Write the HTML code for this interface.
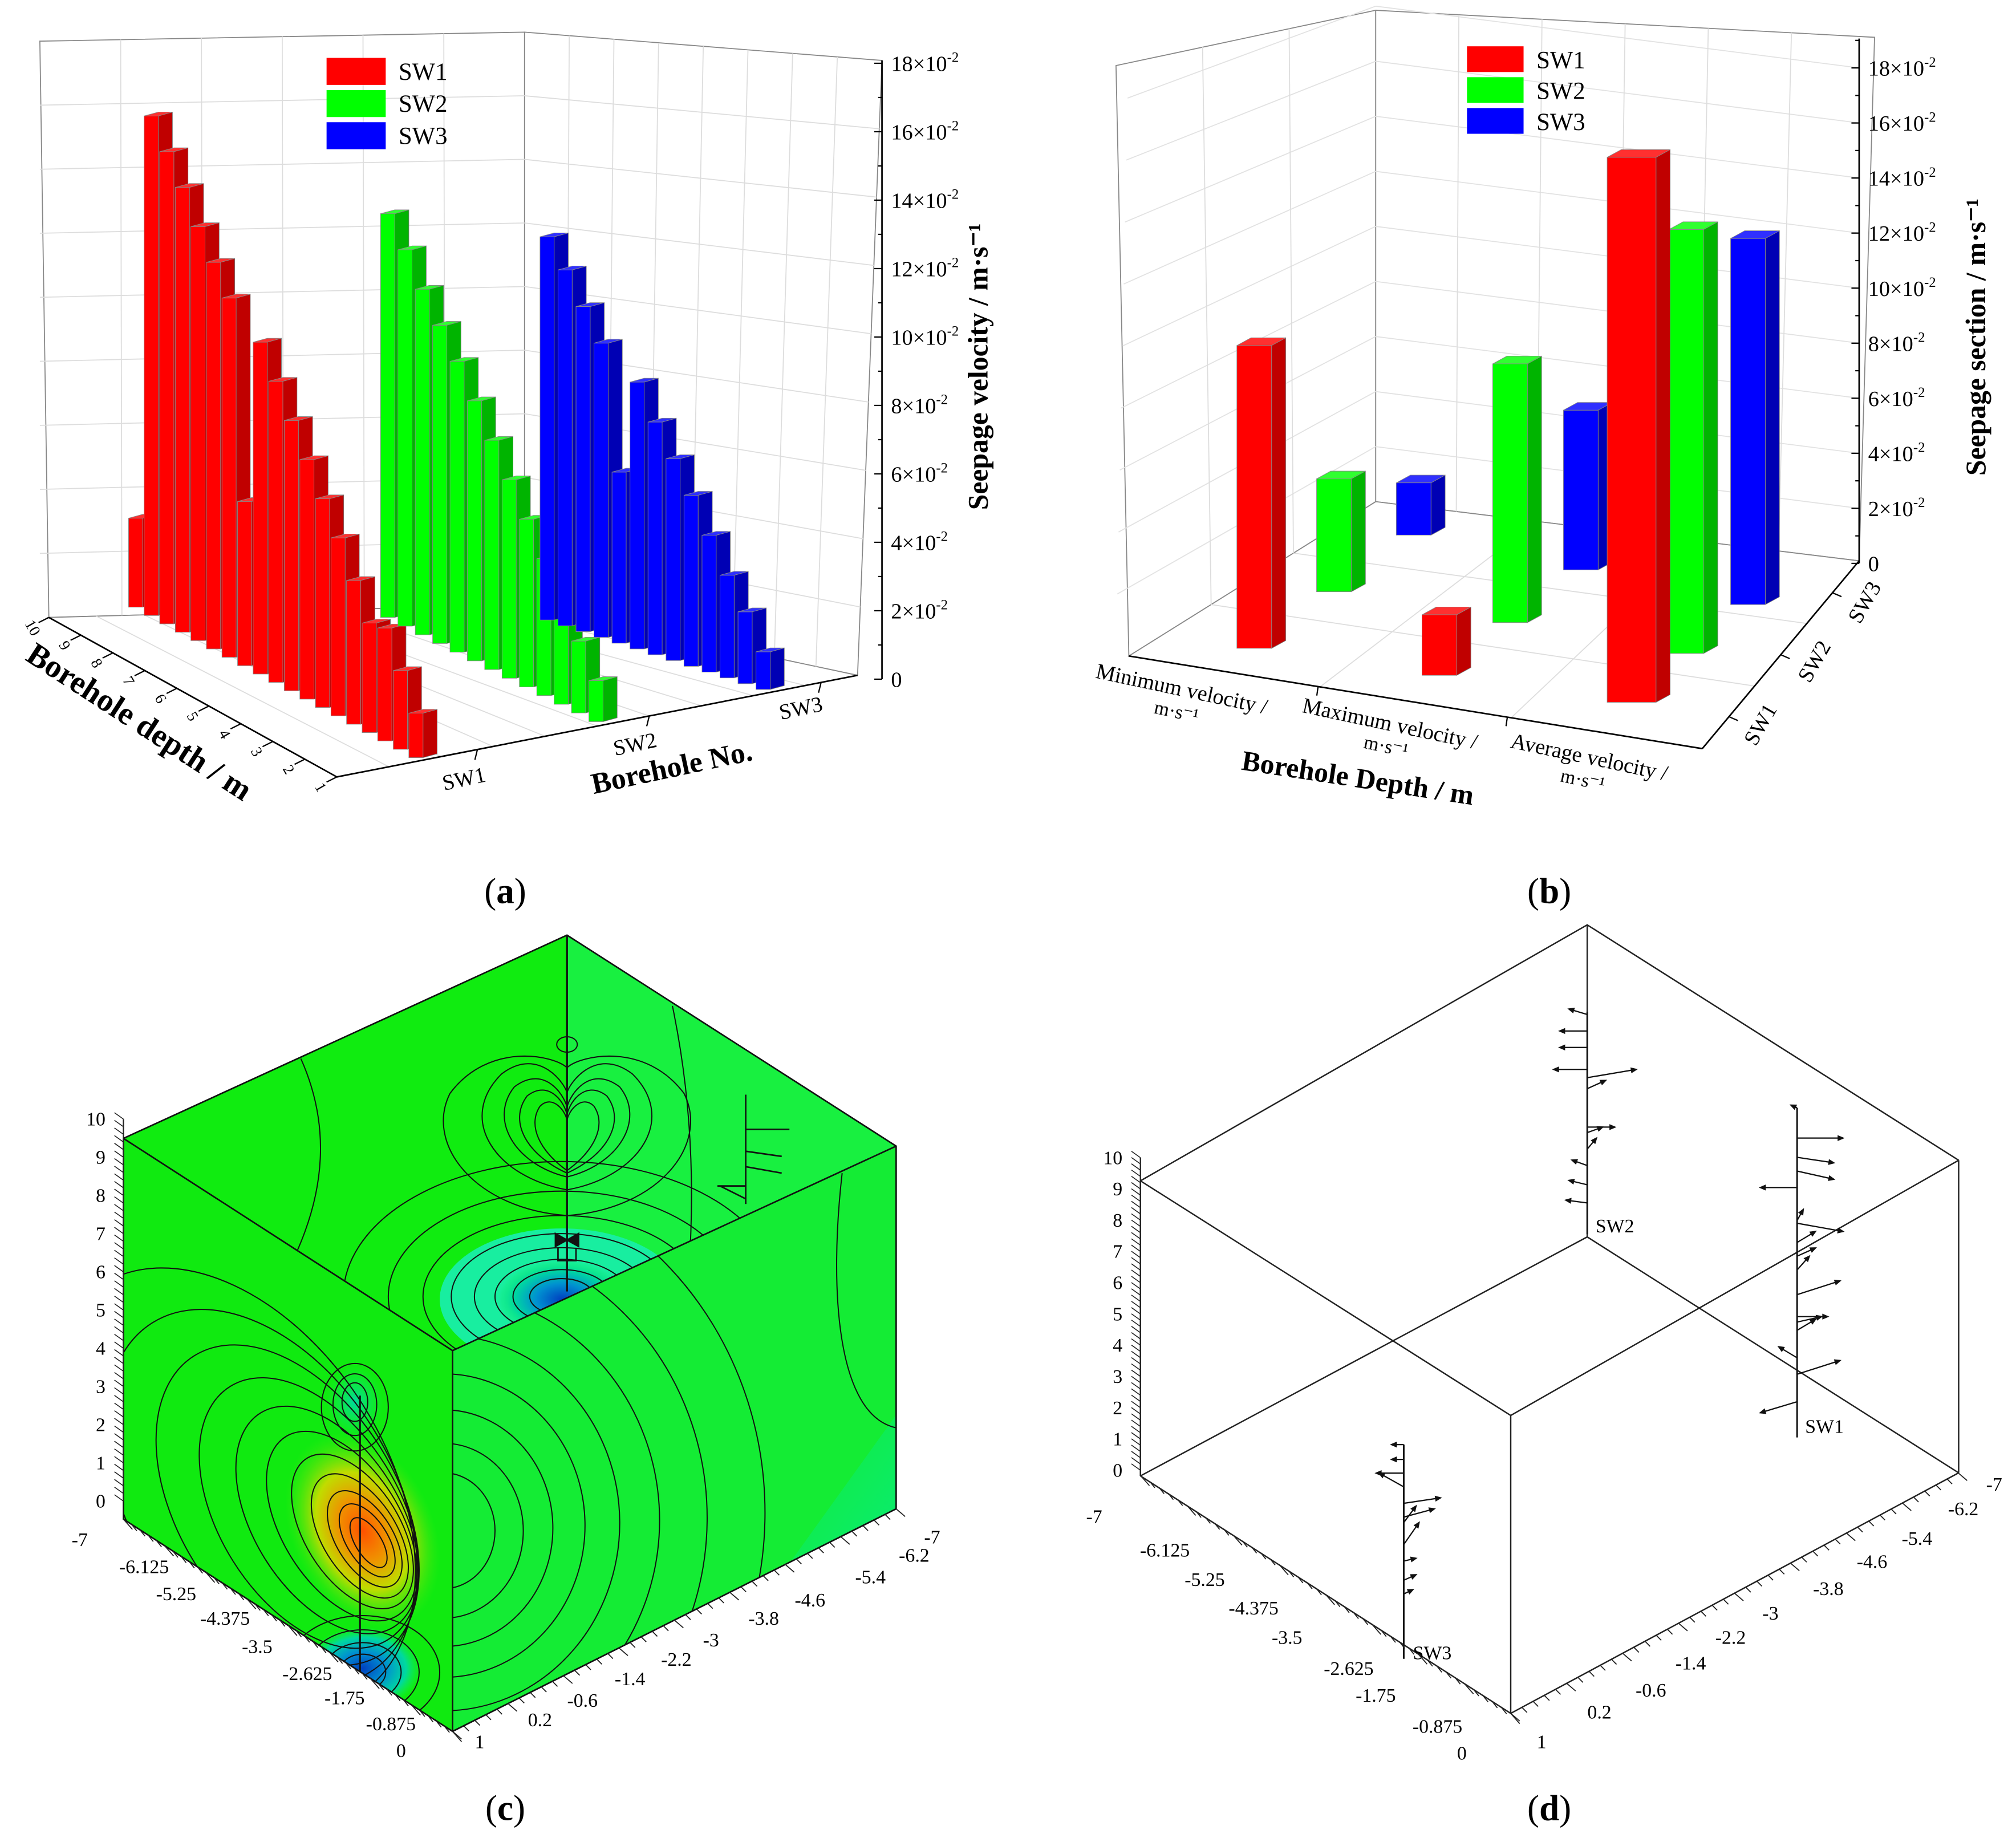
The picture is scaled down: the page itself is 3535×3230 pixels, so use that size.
<!DOCTYPE html>
<html><head><meta charset="utf-8"><style>
html,body{margin:0;padding:0;background:#fff}
svg{display:block}
text{font-family:"Liberation Serif",serif;fill:#000}
</style></head><body>
<svg id="fig" xmlns="http://www.w3.org/2000/svg" width="3535" height="3230" viewBox="0 0 1568 1432" preserveAspectRatio="none">
<defs>
<clipPath id="cFL"><polygon points="96,885 352,1050 352,1346 96,1181"/></clipPath>
<clipPath id="cFR"><polygon points="352,1050 697,891 697,1173 352,1346"/></clipPath>
<clipPath id="cBK"><polygon points="441,727 96,885 352,1050 697,891"/></clipPath>
<radialGradient id="gHot" cx="0.5" cy="0.5" r="0.5">
<stop offset="0" stop-color="#ff5000"/><stop offset="0.3" stop-color="#f09000"/><stop offset="0.6" stop-color="#c0dc00"/><stop offset="1" stop-color="#40e810" stop-opacity="0"/>
</radialGradient>
<radialGradient id="gBlue" cx="0.5" cy="0.5" r="0.5">
<stop offset="0" stop-color="#0040c0"/><stop offset="0.4" stop-color="#0090d0"/><stop offset="0.75" stop-color="#00d8a0"/><stop offset="1" stop-color="#10ee60" stop-opacity="0"/>
</radialGradient>
<radialGradient id="gCyan" cx="0.5" cy="0.5" r="0.5">
<stop offset="0" stop-color="#00d8a0"/><stop offset="1" stop-color="#10ee60" stop-opacity="0"/>
</radialGradient>
<linearGradient id="gCorner" x1="0" y1="0" x2="1" y2="1">
<stop offset="0" stop-color="#12f040" stop-opacity="0"/><stop offset="1" stop-color="#00e8a8"/>
</linearGradient>
</defs>

<!-- ============ PANEL A ============ -->
<g id="panelA">
<polygon points="31,32 408,25 408,470 38,480" fill="#fff" stroke="#888" stroke-width="0.8"/>
<polygon points="408,25 686,47 667,525 408,470" fill="#fff" stroke="#888" stroke-width="0.8"/>
<polygon points="38,480 408,470 667,525 262,604" fill="#fff" stroke="#888" stroke-width="0.8"/>
<g id="aGrid" stroke="#ddd" stroke-width="0.8" fill="none"></g>
<g id="aBars"></g>
<g id="aAxis"></g>
<g>
<rect x="254" y="45" width="46" height="21" fill="#ff0000"/>
<rect x="254" y="70" width="46" height="21" fill="#00ff00"/>
<rect x="254" y="95" width="46" height="21" fill="#0000ff"/>
<text x="310" y="62" font-size="19">SW1</text>
<text x="310" y="87" font-size="19">SW2</text>
<text x="310" y="112" font-size="19">SW3</text>
</g>
<text transform="translate(104,568) rotate(33)" text-anchor="middle" font-size="25" font-weight="bold">Borehole depth / m</text>
<text transform="translate(524,604) rotate(-12)" text-anchor="middle" font-size="23" font-weight="bold">Borehole No.</text>
<text transform="translate(768,285) rotate(-90)" text-anchor="middle" font-size="22" font-weight="bold">Seepage velocity / m·s⁻¹</text>
<text transform="translate(362,611) rotate(-12)" text-anchor="middle" font-size="17">SW1</text>
<text transform="translate(495,584) rotate(-12)" text-anchor="middle" font-size="17">SW2</text>
<text transform="translate(624,556) rotate(-12)" text-anchor="middle" font-size="17">SW3</text>
</g>
<text x="393" y="702" text-anchor="middle" font-size="28">(<tspan font-weight="bold">a</tspan>)</text>

<!-- ============ PANEL B ============ -->
<g id="panelB">
<polygon points="868,51 1070,8 1070,390 878,510" fill="#fff" stroke="#888" stroke-width="0.8"/>
<polygon points="1070,8 1458,29 1446,436 1070,390" fill="#fff" stroke="#888" stroke-width="0.8"/>
<polygon points="878,510 1070,390 1446,436 1324,582" fill="#fff" stroke="#888" stroke-width="0.8"/>
<g id="bGrid" stroke="#ddd" stroke-width="0.8" fill="none"></g>
<g id="bBars"></g>
<g id="bAxis"></g>
<g>
<rect x="1141" y="36" width="44" height="20" fill="#ff0000"/>
<rect x="1141" y="60" width="44" height="20" fill="#00ff00"/>
<rect x="1141" y="84" width="44" height="20" fill="#0000ff"/>
<text x="1195" y="53" font-size="19">SW1</text>
<text x="1195" y="77" font-size="19">SW2</text>
<text x="1195" y="101" font-size="19">SW3</text>
</g>
<text transform="translate(918,541) rotate(12)" text-anchor="middle" font-size="17">Minimum velocity /</text>
<text transform="translate(914,558) rotate(12)" text-anchor="middle" font-size="15">m·s⁻¹</text>
<text transform="translate(1080,568) rotate(12)" text-anchor="middle" font-size="17">Maximum velocity /</text>
<text transform="translate(1077,585) rotate(12)" text-anchor="middle" font-size="15">m·s⁻¹</text>
<text transform="translate(1235,594) rotate(12)" text-anchor="middle" font-size="17">Average velocity /</text>
<text transform="translate(1230,611) rotate(12)" text-anchor="middle" font-size="15">m·s⁻¹</text>
<text transform="translate(1055,612) rotate(8.7)" text-anchor="middle" font-size="22" font-weight="bold">Borehole Depth / m</text>
<text transform="translate(1544,262) rotate(-90)" text-anchor="middle" font-size="22" font-weight="bold">Seepage section / m·s⁻¹</text>
<text transform="translate(1374,566) rotate(-60)" text-anchor="middle" font-size="17">SW1</text>
<text transform="translate(1416,517) rotate(-60)" text-anchor="middle" font-size="17">SW2</text>
<text transform="translate(1455,471) rotate(-60)" text-anchor="middle" font-size="17">SW3</text>
</g>
<text x="1205" y="702" text-anchor="middle" font-size="28">(<tspan font-weight="bold">b</tspan>)</text>

<!-- ============ PANEL C ============ -->
<g id="panelC">
<polygon points="441,727 96,885 352,1050 697,891" fill="#10ec10"/>
<polygon points="441,727 697,891 530,969 441,1004" fill="#18f040"/>
<g clip-path="url(#cBK)" fill="none" stroke="#111" stroke-width="0.9">
 <ellipse cx="437" cy="1010" rx="95" ry="55" fill="#18eea0" stroke="none"/>
 <ellipse cx="437" cy="1010" rx="50" ry="30" fill="url(#gBlue)" stroke="none"/>
 <ellipse cx="437" cy="1008" rx="25" ry="14"/><ellipse cx="437" cy="1008" rx="38" ry="21"/><ellipse cx="437" cy="1008" rx="52" ry="29"/><ellipse cx="437" cy="1008" rx="68" ry="38"/><ellipse cx="437" cy="1008" rx="86" ry="49"/><ellipse cx="437" cy="1008" rx="108" ry="63"/><ellipse cx="437" cy="1008" rx="135" ry="82"/><ellipse cx="437" cy="1008" rx="170" ry="105"/>
 <g transform="translate(0,100)">
 <path d="M441,810 C420,795 410,775 420,760 C430,750 441,765 441,772 C441,765 452,750 462,760 C472,775 462,795 441,810Z"/>
 <path d="M441,812 C410,798 395,772 410,752 C428,738 441,760 441,768 C441,760 454,738 472,752 C487,772 472,798 441,812Z"/>
 <path d="M441,815 C400,805 380,770 400,745 C425,726 441,755 441,762 C441,755 457,726 482,745 C502,770 482,805 441,815Z"/>
 <path d="M441,825 C385,815 355,770 390,735 C420,712 441,745 441,750 C441,745 462,712 492,735 C527,770 497,815 441,825Z"/>
 <path d="M441,845 C370,840 330,790 350,750 C380,710 430,720 441,730 C452,720 502,710 532,750 C552,790 512,840 441,845Z"/>
 </g>
 <ellipse cx="441" cy="812" rx="8" ry="6"/>
 <path d="M234,823 C255,870 255,920 230,975"/>
 <path d="M523,782 C535,840 540,900 537,966"/>
</g>
<polygon points="96,885 352,1050 352,1346 96,1181" fill="#10ea10"/>
<g clip-path="url(#cFL)" fill="none" stroke="#111" stroke-width="0.9">
 <ellipse cx="282" cy="1297" rx="45" ry="32" fill="url(#gBlue)" stroke="none"/>
 <ellipse cx="276" cy="1090" rx="22" ry="28" fill="url(#gCyan)" stroke="none"/>
 <ellipse cx="282" cy="1190" rx="55" ry="80" fill="url(#gHot)" stroke="none" transform="rotate(-25 282 1190)"/>
 <g transform="rotate(-32 284 1195)">
 <ellipse cx="284" cy="1200" rx="10" ry="22"/><ellipse cx="284" cy="1198" rx="16" ry="32"/><ellipse cx="283" cy="1196" rx="22" ry="42"/><ellipse cx="281" cy="1192" rx="29" ry="54"/><ellipse cx="278" cy="1186" rx="37" ry="67"/><ellipse cx="273" cy="1178" rx="46" ry="82"/><ellipse cx="266" cy="1168" rx="57" ry="98"/><ellipse cx="257" cy="1156" rx="70" ry="116"/><ellipse cx="246" cy="1142" rx="85" ry="137"/><ellipse cx="232" cy="1126" rx="102" ry="160"/><ellipse cx="215" cy="1108" rx="122" ry="188"/>
 </g>
 <ellipse cx="276" cy="1090" rx="10" ry="15"/><ellipse cx="276" cy="1092" rx="17" ry="24"/><ellipse cx="276" cy="1094" rx="26" ry="34"/>
 <ellipse cx="282" cy="1300" rx="18" ry="14"/><ellipse cx="282" cy="1300" rx="30" ry="23"/><ellipse cx="282" cy="1300" rx="44" ry="33"/><ellipse cx="282" cy="1300" rx="60" ry="44"/>
 <line x1="280" y1="1085" x2="280" y2="1346" stroke-width="1.4"/>
</g>
<polygon points="352,1050 697,891 697,1173 352,1346" fill="#14ec34"/>
<g clip-path="url(#cFR)" fill="none" stroke="#111" stroke-width="0.9">
 <polygon points="520,1346 697,1100 697,1346" fill="url(#gCorner)" stroke="none"/>
 <ellipse cx="345" cy="1190" rx="40" ry="45"/><ellipse cx="345" cy="1190" rx="62" ry="68"/><ellipse cx="345" cy="1188" rx="85" ry="92"/><ellipse cx="345" cy="1186" rx="110" ry="118"/><ellipse cx="345" cy="1184" rx="137" ry="146"/><ellipse cx="345" cy="1182" rx="168" ry="178"/><ellipse cx="345" cy="1180" rx="205" ry="218"/><ellipse cx="345" cy="1176" rx="250" ry="268"/>
 <path d="M560,1346 C620,1250 660,1210 697,1190"/><path d="M600,1346 C640,1280 670,1250 697,1240"/>
 <path d="M655,912 C645,1000 650,1100 697,1110"/>
</g>
<g fill="none" stroke="#111" stroke-width="1.2">
 <polyline points="96,885 441,727 697,891 697,1173 352,1346 96,1181 96,885"/>
 <polyline points="96,885 352,1050 697,891"/>
 <line x1="352" y1="1050" x2="352" y2="1346"/>
 <line x1="441" y1="727" x2="441" y2="1004" stroke-width="1.5"/>
 <line x1="580" y1="851" x2="580" y2="936"/>
 <line x1="580" y1="878" x2="614" y2="878"/><line x1="580" y1="895" x2="608" y2="899"/><line x1="580" y1="907" x2="608" y2="912"/><line x1="580" y1="922" x2="558" y2="922"/><line x1="580" y1="932" x2="560" y2="922"/>
 <path d="M432,959 L441,964 L450,959 L450,969 L441,964 L432,969Z" fill="#111"/>
 <path d="M434,970 L434,980 L448,980 L448,970"/>
</g>
<g id="cAxis"></g>
</g>
<text x="393" y="1415" text-anchor="middle" font-size="28">(<tspan font-weight="bold">c</tspan>)</text>

<!-- ============ PANEL D ============ -->
<g id="panelD">
<g fill="none" stroke="#222" stroke-width="1.1">
 <polyline points="887,918 1234.5,719 1523.4,902"/>
 <line x1="1234.5" y1="719" x2="1234.5" y2="961.6"/>
 <line x1="887" y1="918" x2="887" y2="1147.4"/>
 <line x1="1523.4" y1="902" x2="1523.4" y2="1145"/>
 <polyline points="887,918 1175,1100.4 1523.4,902"/>
 <line x1="1175" y1="1100.4" x2="1175" y2="1332"/>
 <polyline points="887,1147.4 1175,1332 1523.4,1145"/>
 <line x1="1234.5" y1="961.6" x2="887" y2="1147.4"/>
 <line x1="1234.5" y1="961.6" x2="1523.4" y2="1145"/>
</g>
<g id="dWells" fill="none" stroke="#111" stroke-width="1"></g>
<text x="1404" y="1114" font-size="15">SW1</text>
<text x="1241" y="958" font-size="15">SW2</text>
<text x="1099" y="1290" font-size="15">SW3</text>
<g id="dAxis"></g>
</g>
<text x="1205" y="1415" text-anchor="middle" font-size="28">(<tspan font-weight="bold">d</tspan>)</text>
</svg>

<script>
const NS='http://www.w3.org/2000/svg';
// ---------- Panel (a) data (×10^-2 m/s) ----------
const aSeries=['SW1','SW2','SW3'];
const aSW1=[2.6,14.6,13.8,13.0,12.1,11.3,10.5,4.8,9.7,8.8,7.9,7.0,6.1,5.2,4.2,3.2,3.3,2.3,1.3];
const aSW2=[11.8,11.0,10.1,9.3,8.5,7.6,6.7,5.8,4.9,4.0,3.1,2.1,1.2];
const aSW3=[11.2,10.4,9.5,8.6,5.0,7.8,6.8,5.9,5.0,4.0,3.0,2.1,1.1];
const aTicks=[0,2,4,6,8,10,12,14,16,18];
const aDepthLabels=['10','9','8','7','6','5','4','3','2','1'];
// ---------- Panel (b) data (×10^-2 m/s) ----------
const bCategories=['Minimum velocity','Maximum velocity','Average velocity'];
const bSW1=[11.0,2.2,19.8];
const bSW2=[4.1,9.4,15.4];
const bSW3=[1.9,5.8,13.3];
const bTicks=[0,2,4,6,8,10,12,14,16,18];
// ---------- Panel (c)/(d) axis labels ----------
const cLeftLabels=['-7','-6.125','-5.25','-4.375','-3.5','-2.625','-1.75','-0.875','0'];
const cRightLabels=['-7','-6.2','-5.4','-4.6','-3.8','-3','-2.2','-1.4','-0.6','0.2','1'];
const zLabels=['0','1','2','3','4','5','6','7','8','9','10'];

function el(tag,attrs,parent,txt){const e=document.createElementNS(NS,tag);for(const k in attrs)e.setAttribute(k,attrs[k]);if(txt!==undefined)e.textContent=txt;parent.appendChild(e);return e;}

const aScale=v=>v*26.6;
const aY=v=>528-v*26.6;
const bScale=v=>v*21.4;
const bY=v=>438-v*21.4;
const colors={SW1:['#ff0000','#c00000','#ff3030'],SW2:['#00ff00','#00b400','#30ff30'],SW3:['#0000ff','#0000b4','#3030ff']};

function bar(g,x,yb,h,w,d,dy,c,name){
  const grp=el('g',{},g);
  
  
  el('polygon',{points:`${x+w},${yb-h} ${x+w+d},${yb-h-dy} ${x+w+d},${yb-dy} ${x+w},${yb}`,fill:c[1],stroke:'#777','stroke-width':0.4},grp);
  el('rect',{x:x,y:yb-h,width:w,height:h,fill:c[0],stroke:'#888','stroke-width':0.4},grp);
  el('polygon',{points:`${x},${yb-h} ${x+d},${yb-h-dy} ${x+w+d},${yb-h-dy} ${x+w},${yb-h}`,fill:c[2],stroke:'#888','stroke-width':0.4},grp);
}

(function(){
 const g=document.getElementById('aGrid');
 for(let i=1;i<9;i++){const t=i/9;el('line',{x1:31,y1:32+(480-32)*t,x2:408,y2:25+(470-25)*t},g);}
 for(let i=1;i<6;i++){const x=31+i*(408-31)/6;el('line',{x1:x,y1:32-i*1.2,x2:x+1,y2:480-i*1.5},g);}
 for(let i=1;i<9;i++){const t=i/9;el('line',{x1:408,y1:25+(470-25)*t,x2:686-19*t,y2:47+(525-47)*t},g);}
 for(let i=1;i<8;i++){const t=i/8;el('line',{x1:408+278*t,y1:25+22*t,x2:408+259*t,y2:470+55*t},g);}
 for(let i=1;i<10;i++){const t=i/10;el('line',{x1:38+370*t,y1:480-10*t,x2:262+405*t,y2:604-79*t},g);}
})();
(function(){
 const g=document.getElementById('aBars');
 const specs=[[aSW1,'SW1',100,472,318,589],[aSW2,'SW2',296,480,458,561],[aSW3,'SW3',420,482,588,536]];
 specs.forEach(([arr,s,x0,y0,x1,y1])=>{
   const n=arr.length;
   arr.forEach((v,i)=>{const t=n>1?i/(n-1):0;bar(g,x0+(x1-x0)*t,y0+(y1-y0)*t,aScale(v),11,11,3,colors[s],'bar-'+s.toLowerCase()+'-'+(i+1));});
 });
 const ax=document.getElementById('aAxis');
 const l=el('line',{x1:686,y1:47,x2:686,y2:528,stroke:'#000','stroke-width':1.2},ax);
 
 for(let v=0;v<=18;v++){el('line',{x1:686,y1:aY(v),x2:v%2?683:680,y2:aY(v),stroke:'#000','stroke-width':1},ax);}
 aTicks.forEach(v=>{const t=el('text',{x:693,y:aY(v)+6,'font-size':17},ax);
   
   if(v===0){t.textContent='0';}else{t.textContent=v+'×10';el('tspan',{dy:-7,'font-size':11},t,'-2');}
 });
 el('line',{x1:38,y1:480,x2:262,y2:604,stroke:'#000','stroke-width':1.2},ax);
 el('line',{x1:262,y1:604,x2:667,y2:525,stroke:'#000','stroke-width':1.2},ax);
 aDepthLabels.forEach((s,i)=>{const t=i/9;const x=38+224*t,y=480+124*t;
   el('line',{x1:x,y1:y,x2:x-8,y2:y+4,stroke:'#000'},ax);
   const tx=el('text',{transform:`translate(${x-16},${y+10}) rotate(60)`,'font-size':12,'text-anchor':'middle'},ax,s);
   });
 [0.27,0.6,0.93].forEach(t=>{el('line',{x1:262+405*t,y1:604-79*t,x2:262+405*t-2,y2:604-79*t+8,stroke:'#000'},ax);});
})();
(function(){
 const g=document.getElementById('bGrid');
 for(let v=2;v<=18;v+=2){el('line',{x1:868+10*v/20,y1:510-(510-51)*v/20*1.05,x2:1070,y2:bY(v)-48,stroke:'#e2e2e2'},g);
   el('line',{x1:1070,y1:bY(v)-48,x2:1446,y2:bY(v),stroke:'#e2e2e2'},g);}
 for(let i=1;i<3;i++){const t=i/3;el('line',{x1:868+202*t,y1:51-43*t,x2:878+192*t,y2:510-120*t},g);}
 for(let i=1;i<6;i++){const t=i/6;el('line',{x1:1070+388*t,y1:8+21*t,x2:1070+376*t,y2:390+46*t},g);}
 for(let i=1;i<3;i++){const t=i/3;el('line',{x1:878+446*t,y1:510+72*t,x2:1070+376*t,y2:390+46*t},g);
   el('line',{x1:878+192*t,y1:510-120*t,x2:1324+122*t,y2:582-146*t},g);}
 const bars=document.getElementById('bBars');
 const ser=[['SW1',bSW1],['SW2',bSW2],['SW3',bSW3]];
 for(let c=0;c<bCategories.length;c++){
   for(let s=2;s>=0;s--){
     const [name,arr]=ser[s];
     const x=962+c*144+s*(62-7*c), yb=504+c*21-s*(44-3*c);
     bar(bars,x,yb,bScale(arr[c]),c===2&&s===0?38:27,11,6,colors[name],'bar-'+name.toLowerCase()+'-'+['min','max','avg'][c]);
   }
 }
 const ax=document.getElementById('bAxis');
 el('line',{x1:1446,y1:30,x2:1446,y2:438,stroke:'#000','stroke-width':1.2},ax);
 for(let v=0;v<=19;v++){el('line',{x1:1446,y1:bY(v),x2:v%2?1443:1440,y2:bY(v),stroke:'#000'},ax);}
 bTicks.forEach(v=>{const t=el('text',{x:1453,y:bY(v)+6,'font-size':17},ax);
   
   if(v===0){t.textContent='0';}else{t.textContent=v+'×10';el('tspan',{dy:-7,'font-size':11},t,'-2');}
 });
 el('line',{x1:878,y1:510,x2:1324,y2:582,stroke:'#000','stroke-width':1.2},ax);
 el('line',{x1:1324,y1:582,x2:1446,y2:436,stroke:'#000','stroke-width':1.2},ax);
 [0.33,0.66].forEach(t=>el('line',{x1:878+446*t,y1:510+72*t,x2:878+446*t-1,y2:510+72*t+7,stroke:'#000'},ax));
 [0.17,0.5,0.83].forEach(t=>el('line',{x1:1324+122*t,y1:582-146*t,x2:1324+122*t+7,y2:582-146*t+3,stroke:'#000'},ax));
})();
function cubeAxes(gid,left0,left1,right0,right1,zx,z0,z10,leftPos,rightPos,pre){
 const g=document.getElementById(gid);
 const lA=left0,lB=left1;
 for(let i=0;i<=40;i++){const t=i/40;const x=lA[0]+(lB[0]-lA[0])*t,y=lA[1]+(lB[1]-lA[1])*t;el('line',{x1:x,y1:y,x2:x+(i%5?4:7),y2:y+(i%5?5:8),stroke:'#222','stroke-width':0.8},g);}
 for(let i=0;i<=40;i++){const t=i/40;const x=right0[0]+(right1[0]-right0[0])*t,y=right0[1]+(right1[1]-right0[1])*t;el('line',{x1:x,y1:y,x2:x+(i%5?4:7),y2:y+(i%5?4:6),stroke:'#222','stroke-width':0.8},g);}
 for(let i=0;i<=50;i++){const y=z0+(z10-z0)*i/50;el('line',{x1:zx,y1:y,x2:zx-7,y2:y-5,stroke:'#222','stroke-width':0.7},g);}
 el('line',{x1:zx,y1:z0,x2:zx,y2:z10,stroke:'#222','stroke-width':1},g);
 zLabels.forEach((s,i)=>{const t=el('text',{x:zx-14,y:z0+(z10-z0)*i/10+5,'font-size':15,'text-anchor':'end'},g,s);
   });
 cLeftLabels.forEach((s,i)=>{const p=leftPos[i];const t=el('text',{x:p[0],y:p[1]+5,'font-size':15,'text-anchor':'middle'},g,s);
   });
 cRightLabels.forEach((s,i)=>{const p=rightPos[i];const t=el('text',{x:p[0],y:p[1]+5,'font-size':15,'text-anchor':'middle'},g,s);
   });
}
cubeAxes('cAxis',[96,1181],[352,1346],[352,1346],[697,1173],96,1167,870,
 [[62,1197],[112,1218],[137,1239],[175,1258],[200,1280],[239,1301],[268,1320],[304,1340],[312,1361]],
 [[373,1354],[420,1337],[453,1322],[490,1305],[526,1290],[553,1275],[594,1258],[630,1244],[677,1226],[711,1209],[725,1195]].reverse(),'c');
cubeAxes('dAxis',[887,1147],[1175,1332],[1175,1332],[1523,1145],887,1143,900,
 [[851,1179],[906,1205],[937,1228],[975,1250],[1001,1273],[1049,1297],[1070,1318],[1118,1342],[1137,1363]],
 [[1199,1354],[1244,1331],[1284,1314],[1315,1293],[1346,1273],[1377,1254],[1422,1235],[1456,1214],[1491,1196],[1527,1173],[1551,1154]].reverse(),'d');
const z4=(x,y)=>[820.6+x*0.4758,709.7+y*0.427];
const wellSW1=[[355,-10,-5],[410,75,0],[445,60,10],[470,60,15],[500,-60,0],[560,10,-20],[565,75,15],[600,30,-20],[625,30,-15],[650,20,-25],[695,70,-25],[735,50,0],[745,40,-10],[760,30,-20],[810,-30,-20],[840,70,-25],[890,-60,20]];
const wellSW2=[[185,-30,-10],[215,-45,0],[245,-45,0],[285,-55,0],[300,80,-15],[320,30,-15],[390,45,0],[400,25,-10],[430,15,-20],[460,-25,-10],[495,-30,-8],[528,-35,-5]];
const wellSW3=[[968,-20,0],[995,-20,0],[1020,-45,0],[1045,-40,-25],[1075,60,-10],[1100,50,-15],[1110,20,-30],[1150,25,-40],[1180,20,-5],[1215,20,-10],[1240,15,-8]];
(function(){
 const g=document.getElementById('dWells');
 [[1213,355,955,wellSW1,'sw1'],[870,180,585,wellSW2,'sw2'],[570,968,1358,wellSW3,'sw3']].forEach(([wx,y0,y1,arr,nm])=>{
   const a=z4(wx,y0),b=z4(wx,y1);
   const ln=el('line',{x1:a[0],y1:a[1],x2:b[0],y2:b[1],'stroke-width':1.3},g);
   
   arr.forEach(([y,dx,dy])=>{const p=z4(wx,y),q=z4(wx+dx,y+dy);
     el('line',{x1:p[0],y1:p[1],x2:q[0],y2:q[1]},g);
     const ang=Math.atan2(q[1]-p[1],q[0]-p[0]);
     const h1=[q[0]-4*Math.cos(ang-0.4),q[1]-4*Math.sin(ang-0.4)],h2=[q[0]-4*Math.cos(ang+0.4),q[1]-4*Math.sin(ang+0.4)];
     el('polygon',{points:`${q[0]},${q[1]} ${h1[0]},${h1[1]} ${h2[0]},${h2[1]}`,fill:'#111'},g);});
 });
})();
</script>
</body></html>
